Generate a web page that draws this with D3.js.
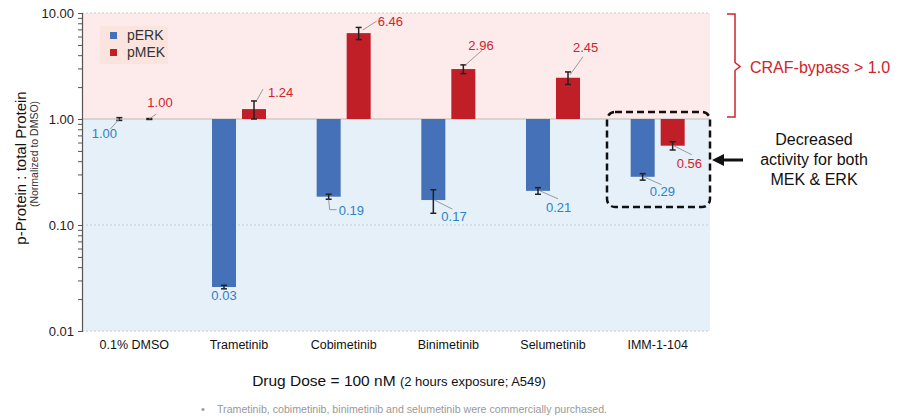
<!DOCTYPE html>
<html>
<head>
<meta charset="utf-8">
<script src="https://cdn.jsdelivr.net/npm/d3@7"></script>
<style>
  body { margin: 0; background: #fff; }
  svg { font-family: "Liberation Sans", Arial, sans-serif; }
</style>
</head>
<body>
<script>
// data
var drugs = ["0.1% DMSO", "Trametinib", "Cobimetinib", "Binimetinib", "Selumetinib", "IMM-1-104"];
var perk = [1.00, 0.026, 0.185, 0.172, 0.21, 0.285];
var perkErr = [0.03, 0.001, 0.01, 0.043, 0.015, 0.02];
var pmek = [1.00, 1.24, 6.46, 2.96, 2.45, 0.56];
var pmekErr = [0.01, 0.24, 0.85, 0.28, 0.33, 0.05];
var perkText = ["1.00", "0.03", "0.19", "0.17", "0.21", "0.29"];
var pmekText = ["1.00", "1.24", "6.46", "2.96", "2.45", "0.56"];
var yTicks = [0.01, 0.1, 1, 10];

// callout layout relative to the bar end: leader points and text spot + anchor
var perkLab = [
  {line: [[0, 0], [-9, 10]], text: [-15, 19], anchor: "middle"},
  {line: null, text: [0, 13], anchor: "middle"},
  {line: [[0, 3], [1, 13], [8, 13]], text: [10, 18], anchor: "start"},
  {line: [[1, 0], [19, 9]], text: [8, 21], anchor: "start"},
  {line: [[2, 0], [20, 8]], text: [8, 21], anchor: "start"},
  {line: [[1, 0], [19, 8]], text: [7, 19], anchor: "start"}
];
var pmekLab = [
  {line: [[0, 0], [7, -5]], text: [-2, -12], anchor: "start"},
  {line: [[3, -9], [9, -20]], text: [14, -12], anchor: "start"},
  {line: [[4, -3], [18, -12]], text: [19, -7], anchor: "start"},
  {line: [[2, -4], [19, -19]], text: [5, -19], anchor: "start"},
  {line: [[2, -3], [15, -21]], text: [5, -26], anchor: "start"},
  {line: [[1, 0], [19, 9]], text: [4, 22], anchor: "start"}
];

var W = 900, H = 419;
var margin = {left: 82, top: 13, right: 190, bottom: 88};
var svg = d3.select("body").append("svg").attr("width", W).attr("height", H);

var x = d3.scaleBand().domain(drugs).range([margin.left, 710]);
var y = d3.scaleLog().domain([0.01, 10]).range([H - margin.bottom, margin.top]);

var blue = "#4471b8", red = "#c11f27", blueTxt = "#2b82c9", redTxt = "#d0232c";

// background bands
svg.append("rect").attr("x", x.range()[0]).attr("width", x.range()[1] - x.range()[0])
  .attr("y", y(10)).attr("height", y(1) - y(10)).attr("fill", "#fdeaea");
svg.append("rect").attr("x", x.range()[0]).attr("width", x.range()[1] - x.range()[0])
  .attr("y", y(1)).attr("height", y(0.01) - y(1)).attr("fill", "#e6f0f8");

// grid lines
svg.selectAll(".grid").data([10, 1, 0.1, 0.01]).enter().append("line")
  .attr("x1", x.range()[0]).attr("x2", x.range()[1])
  .attr("y1", function(d){ return y(d); }).attr("y2", function(d){ return y(d); })
  .attr("stroke", function(d){ return d === 1 ? "#dcd2d2" : "#c8ccd0"; })
  .attr("stroke-width", function(d){ return d === 1 ? 2 : 1; })
  .attr("stroke-dasharray", function(d){ return d === 1 ? null : "2,2"; });

// y axis
var minor = [];
[0.01, 0.1, 1].forEach(function(b){ for (var i = 1; i < 10; i++) minor.push(b * i); });
minor.push(10);
var yAxis = d3.axisLeft(y).tickValues(minor).tickSize(4)
  .tickFormat(function(d){ return yTicks.indexOf(+d.toPrecision(3)) >= 0 ? d3.format(".2f")(d) : ""; });
var ga = svg.append("g").attr("transform", "translate(" + margin.left + ",0)").call(yAxis);
ga.select(".domain").attr("stroke", "#555").attr("stroke-width", 1.2);
ga.selectAll(".tick line").attr("stroke", "#555");
ga.selectAll(".tick text").attr("font-size", 13).attr("fill", "#222").attr("x", -8);

// y title
var yt = svg.append("g").attr("transform", "translate(26,0) rotate(-90)");
yt.append("text").attr("x", -168).attr("text-anchor", "middle").attr("font-size", 15).attr("fill", "#111")
  .text("p-Protein : total Protein");
yt.append("text").attr("x", -154).attr("y", 12).attr("text-anchor", "middle").attr("font-size", 10.5).attr("fill", "#333")
  .text("(Normalized to DMSO)");

// bars
var bw = 24, gap = 6;
function bar(vals, errs, color, off) {
  var g = svg.append("g");
  g.selectAll("rect").data(vals).enter().append("rect")
    .attr("x", function(d, i){ return x(drugs[i]) + x.bandwidth() / 2 + off; })
    .attr("width", bw)
    .attr("y", function(d){ return Math.min(y(d), y(1)); })
    .attr("height", function(d){ return Math.abs(y(d) - y(1)); })
    .attr("fill", color);
  vals.forEach(function(d, i){
    var cx = x(drugs[i]) + x.bandwidth() / 2 + off + bw / 2;
    var y0 = y(d + errs[i]), y1 = y(Math.max(d - errs[i], 0.001));
    g.append("line").attr("x1", cx).attr("x2", cx).attr("y1", y0).attr("y2", y1)
      .attr("stroke", "#222").attr("stroke-width", 1.5);
    [y0, y1].forEach(function(yy){
      g.append("line").attr("x1", cx - 3).attr("x2", cx + 3).attr("y1", yy).attr("y2", yy)
        .attr("stroke", "#222").attr("stroke-width", 1.5);
    });
  });
}
bar(perk, perkErr, blue, -bw - gap / 2);
bar(pmek, pmekErr, red, gap / 2);

// value callouts
function callouts(vals, texts, labs, color, off) {
  vals.forEach(function(d, i){
    var cx = x(drugs[i]) + x.bandwidth() / 2 + off + bw / 2;
    var vy = y(d), L = labs[i];
    if (L.line) {
      svg.append("polyline")
        .attr("points", L.line.map(function(p){ return (cx + p[0]) + "," + (vy + p[1]); }).join(" "))
        .attr("fill", "none").attr("stroke", "#9a9a9a").attr("stroke-width", 1);
    }
    svg.append("text").attr("x", cx + L.text[0]).attr("y", vy + L.text[1])
      .attr("text-anchor", L.anchor).attr("font-size", 13).attr("fill", color).text(texts[i]);
  });
}
callouts(perk, perkText, perkLab, blueTxt, -bw - gap / 2);
callouts(pmek, pmekText, pmekLab, redTxt, gap / 2);

// legend
var lg = svg.append("g").attr("transform", "translate(100,26)");
lg.append("rect").attr("width", 68).attr("height", 38).attr("fill", "#fbe4de");
[["pERK", blue], ["pMEK", red]].forEach(function(s, i){
  lg.append("rect").attr("x", 10).attr("y", 6 + i * 17).attr("width", 7).attr("height", 7).attr("fill", s[1]);
  lg.append("text").attr("x", 27).attr("y", 14 + i * 17).attr("font-size", 14).attr("fill", "#333").text(s[0]);
});

// x labels
svg.selectAll(".xl").data(drugs).enter().append("text")
  .attr("x", function(d){ return x(d) + x.bandwidth() / 2; })
  .attr("y", 349).attr("text-anchor", "middle").attr("font-size", 12.5).attr("fill", "#111")
  .text(function(d){ return d; });

var xt = svg.append("text").attr("x", 399).attr("y", 386).attr("text-anchor", "middle").attr("fill", "#111");
xt.append("tspan").attr("font-size", 15.5).text("Drug Dose = 100 nM ");
xt.append("tspan").attr("font-size", 13).text("(2 hours exposure; A549)");

svg.append("text").attr("x", 201).attr("y", 413).attr("font-size", 11).attr("fill", "#999").text("\u2022");
svg.append("text").attr("x", 217).attr("y", 413).attr("font-size", 11).attr("fill", "#999")
  .attr("textLength", 390).attr("lengthAdjust", "spacingAndGlyphs")
  .text("Trametinib, cobimetinib, binimetinib and selumetinib were commercially purchased.");

// CRAF-bypass bracket
var bx = 727, bTop = y(10) + 1, bBot = y(1) - 2, bMid = (bTop + bBot) / 2 + 1;
svg.append("path")
  .attr("d", "M" + bx + "," + bTop + " H" + (bx + 8) + " V" + (bMid - 4) + " L" + (bx + 13) + "," + bMid +
    " L" + (bx + 8) + "," + (bMid + 4) + " V" + bBot + " H" + bx)
  .attr("fill", "none").attr("stroke", redTxt).attr("stroke-width", 1.5);
svg.append("text").attr("x", 750).attr("y", bMid + 6).attr("font-size", 16).attr("fill", redTxt)
  .text("CRAF-bypass > 1.0");

// dashed highlight box
svg.append("rect").attr("x", 607).attr("y", 112).attr("width", 103).attr("height", 95)
  .attr("rx", 8).attr("fill", "none").attr("stroke", "#111").attr("stroke-width", 2.5)
  .attr("stroke-dasharray", "7,4");

// arrow
svg.append("line").attr("x1", 743).attr("x2", 722).attr("y1", 160).attr("y2", 160)
  .attr("stroke", "#111").attr("stroke-width", 3);
svg.append("path").attr("d", "M712,160 L724,154 L724,166 Z").attr("fill", "#111");

var note = svg.append("text").attr("text-anchor", "middle").attr("font-size", 16).attr("fill", "#111");
["Decreased", "activity for both", "MEK & ERK"].forEach(function(t, i){
  note.append("tspan").attr("x", 814).attr("y", 145 + i * 20).text(t);
});
</script>
</body>
</html>
